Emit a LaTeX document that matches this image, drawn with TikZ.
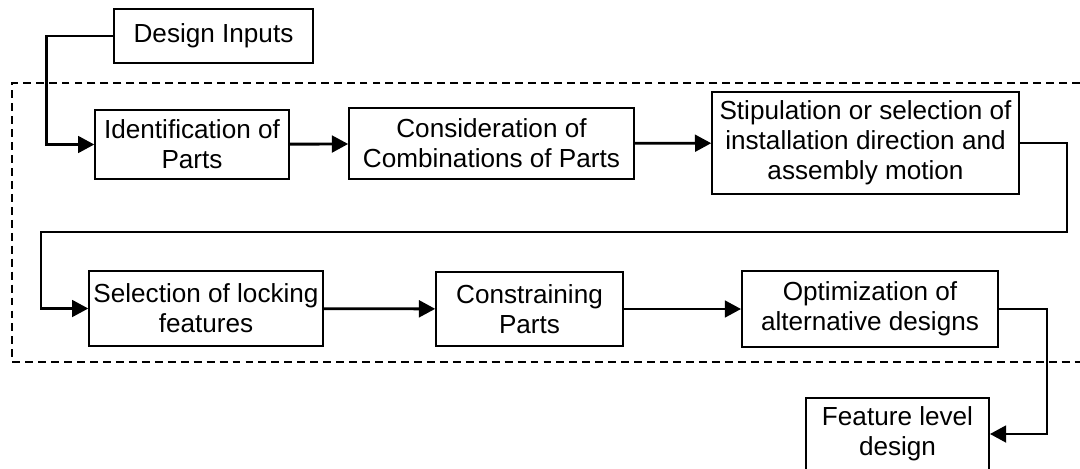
\documentclass[tikz,border=0pt]{standalone}
\usepackage{fontspec}
\setmainfont{Liberation Sans}
\usetikzlibrary{arrows.meta, positioning}

\begin{document}
\begin{tikzpicture}[
    x=0.016cm, y=-0.016cm,
    font=\fontsize{11.9}{13.7}\selectfont,
    blk/.style={rectangle, draw=black, line width=0.8pt, fill=white,
                align=center, inner sep=1pt},
    flow/.style={draw=black, line width=1.3pt,
                 -{Triangle[length=7.4pt, width=7.6pt]}},
    stage/.style={draw=black, line width=0.65pt, dash pattern=on 3.6pt off 2.3pt},
]

\useasboundingbox (0,0) rectangle (1080,469);

% dashed frame round the stages (open on the right)
\draw[stage] (1080,83) -| (12,362) -- (1080,362);

% input
\node[blk, minimum width=3.18cm, minimum height=0.86cm] (inputs) at (213.5,36)
    {Design Inputs};

% first row
\node[blk, minimum width=3.10cm, minimum height=1.10cm] (ident) at (192,144.5)
    {Identification of\\Parts};
\node[blk, minimum width=4.56cm, minimum height=1.14cm] (comb) at (491.5,143.5)
    {Consideration of\\Combinations of Parts};
\node[blk, minimum width=4.91cm, minimum height=1.63cm] (stip) at (865.5,143)
    {Stipulation or selection of\\installation direction and\\assembly motion};

% second row
\node[blk, minimum width=3.74cm, minimum height=1.20cm] (lock) at (206,308.5)
    {Selection of locking\\features};
\node[blk, minimum width=2.99cm, minimum height=1.18cm] (constr) at (529.5,309)
    {Constraining\\Parts};
\node[blk, minimum width=4.10cm, minimum height=1.22cm] (optim) at (870,309)
    {Optimization of\\alternative designs};

% output
\node[blk, minimum width=2.93cm, minimum height=1.15cm] (feat) at (897.5,434)
    {Feature level\\design};

% bends of the wrap-around line
\coordinate (wrapR) at (1067,232);
\coordinate (wrapL) at (41,232);

\draw[flow] (inputs.west) -- ++(-67,0) |- (ident.west);
\draw[flow] (ident) -- (comb);
\draw[flow] (comb) -- (stip);
\draw[flow] (stip.east) -| (wrapR) -- (wrapL) |- (lock.west);
\draw[flow] (lock) -- (constr);
\draw[flow] (constr) -- (optim);
\draw[flow] (optim.east) -- ++(48,0) |- (feat.east);

\end{tikzpicture}
\end{document}
